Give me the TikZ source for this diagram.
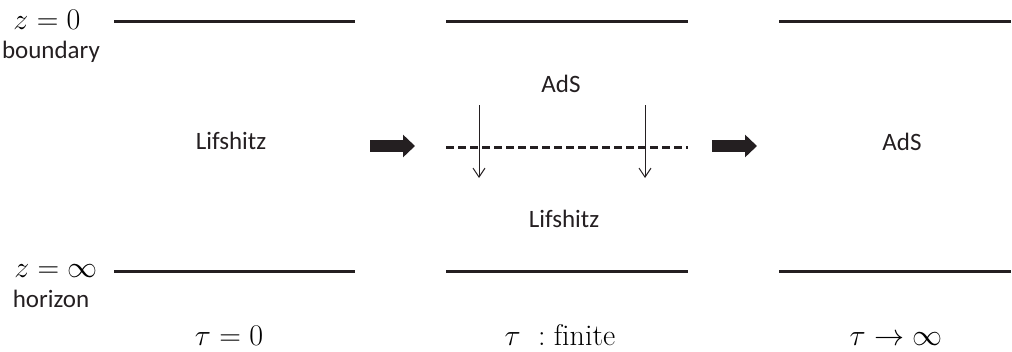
\RequirePackage{fix-cm}
\documentclass[tikz,border=0pt]{standalone}
\usepackage{fontspec}
\setsansfont{Carlito}
\usepackage{amsmath,amssymb}
\usepackage{tikz}
\usetikzlibrary{arrows.meta}
\definecolor{ink}{rgb}{0.14,0.12,0.13}

\begin{document}
\begin{tikzpicture}[line cap=butt,x=1pt,y=-1pt,
    level/.style={color=ink,line width=3pt},
    wall/.style={color=ink,line width=3pt,dash pattern=on 8pt off 4pt},
    flow/.style={-{Straight Barb[length=9pt,width=12pt]},color=ink,line width=1pt},
    fat/.style={-{Triangle[length=12pt,width=22pt]},color=ink,line width=12pt},
    word/.style={font=\fontsize{25}{30}\selectfont\sffamily,text=ink,anchor=base,inner sep=0pt},
    eq/.style={font=\fontsize{30}{36}\selectfont,text=black,anchor=base,inner sep=0pt}]
  \useasboundingbox (0,0) rectangle (1012,351);

  % boundary and horizon
  \draw[level] (114,21.5) -- (355,21.5);
  \draw[level] (446,21.5) -- (688,21.5);
  \draw[level] (779,21.5) -- (1011,21.5);
  \draw[level] (114,271) -- (355,271);
  \draw[level] (446,271) -- (688,271);
  \draw[level] (779,271) -- (1011,271);

  \node[eq] (z0) at (47,29) {$z=0$};
  \node[word] (bdy) at (51,58) {boundary};
  \node[eq] (zinf) at (56,277) {$z=\infty$};
  \node[word] (hor) at (51,307) {horizon};

  % regions
  \node[word] (lif1) at (231,149) {Lifshitz};
  \node[word] (ads1) at (561,92) {AdS};
  \node[word] (lif2) at (564,227) {Lifshitz};
  \node[word] (ads2) at (902,150) {AdS};

  % moving wall
  \coordinate (wl) at (446,147);
  \coordinate (wr) at (688,147);
  \draw[wall] (wl) -- (wr);
  \coordinate (fl1) at (479,105);
  \coordinate (fl2) at (479,178);
  \coordinate (fr1) at (645,105);
  \coordinate (fr2) at (645,178);
  \draw[flow] (fl1) -- (fl2);
  \draw[flow] (fr1) -- (fr2);

  % time steps
  \coordinate (s1) at (370,146);
  \coordinate (e1) at (415,146);
  \coordinate (s2) at (712,146);
  \coordinate (e2) at (757,146);
  \draw[fat] (s1) -- (e1);
  \draw[fat] (s2) -- (e2);

  \node[eq] (t0) at (229,345) {$\tau=0$};
  \node[eq] (tfin) at (560,345) {$\tau\ :\mathrm{finite}$};
  \node[eq] (tinf) at (896,345) {$\tau\to\infty$};
\end{tikzpicture}
\end{document}
